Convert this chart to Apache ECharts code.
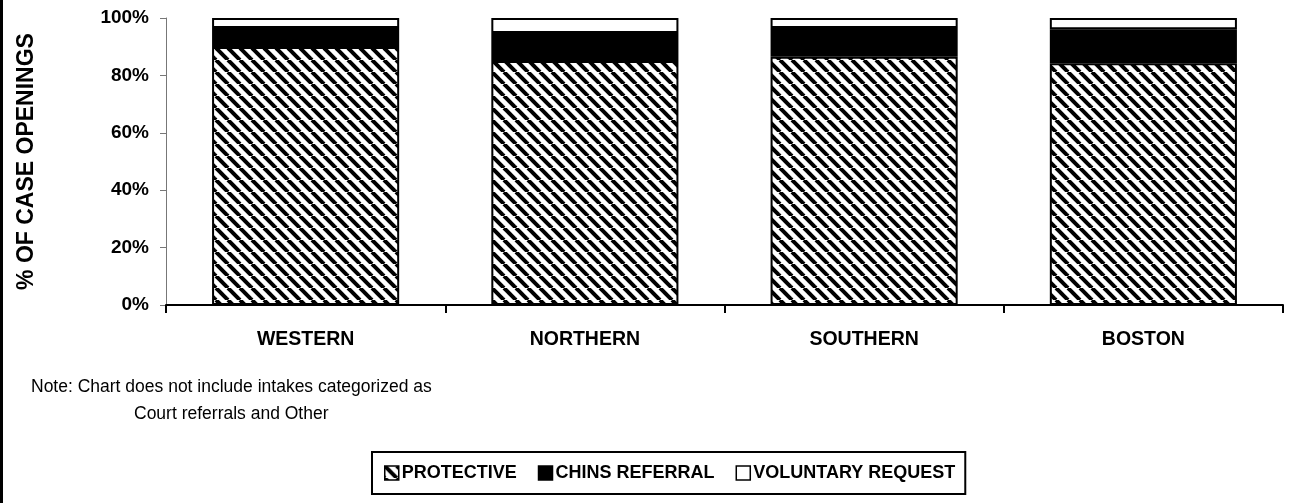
<!DOCTYPE html>
<html>
<head>
<meta charset="utf-8">
<script src="https://cdn.jsdelivr.net/npm/echarts@6/dist/echarts.min.js"></script>
<style>
html,body{margin:0;padding:0;background:#fff;}
#chart{width:1294px;height:503px;}
</style>
</head>
<body>
<div id="chart"></div>
<script>
var regions = ['WESTERN', 'NORTHERN', 'SOUTHERN', 'BOSTON'];
var protective = [89.9, 85.0, 86.5, 84.2];
var chinsReferral = [6.6, 9.8, 10.0, 11.9];
var voluntaryRequest = [3.5, 5.2, 3.5, 3.9];
var yTicks = [0, 20, 40, 60, 80, 100];

// diagonal hatch tile
var tile = document.createElement('canvas');
tile.width = 12;
tile.height = 12;
var ctx = tile.getContext('2d');
ctx.fillStyle = '#fff';
ctx.fillRect(0, 0, 12, 12);
ctx.strokeStyle = '#000';
ctx.lineWidth = 4;
[-12, 0, 12].forEach(function (o) {
    ctx.beginPath();
    ctx.moveTo(o, 0);
    ctx.lineTo(o + 12, 12);
    ctx.stroke();
});
var hatch = { image: tile, repeat: 'repeat' };

var font = 'Liberation Sans, Arial, sans-serif';

var myChart = echarts.init(document.getElementById('chart'));
var option = {
    animation: false,
    textStyle: { fontFamily: font, color: '#000' },
    grid: { left: 166, right: 11, top: 18, bottom: 198 },
    xAxis: {
        type: 'category',
        data: regions,
        axisLine: { lineStyle: { color: '#000', width: 2 } },
        axisTick: { show: true, alignWithLabel: false, length: 8, lineStyle: { color: '#000', width: 2 } },
        axisLabel: { margin: 25, fontSize: 19.5, fontWeight: 'bold', color: '#000', fontFamily: font }
    },
    yAxis: {
        type: 'value',
        min: yTicks[0],
        max: yTicks[yTicks.length - 1],
        interval: 20,
        name: '% OF CASE OPENINGS',
        nameLocation: 'middle',
        nameGap: 128,
        nameTextStyle: { fontSize: 23, fontWeight: 'bold', color: '#000', fontFamily: font },
        splitLine: { show: false },
        axisLine: { show: true, lineStyle: { color: '#777', width: 1 } },
        axisTick: { show: true, length: 6, lineStyle: { color: '#777' } },
        axisLabel: { formatter: '{value}%', margin: 17, fontSize: 19, fontWeight: 'bold', color: '#000', fontFamily: font }
    },
    legend: {
        left: 372,
        top: 452,
        padding: [12, 10, 12, 12],
        borderColor: '#000',
        borderWidth: 2,
        itemWidth: 14,
        itemHeight: 14,
        itemGap: 21,
        selectedMode: false,
        textStyle: { fontSize: 18, fontWeight: 'bold', color: '#000', fontFamily: font, padding: [0, 0, 0, -2] },
        data: [
            { name: 'PROTECTIVE', icon: 'rect', itemStyle: { color: hatch, borderColor: '#000', borderWidth: 1.5 } },
            { name: 'CHINS REFERRAL', icon: 'rect', itemStyle: { color: '#000', borderColor: '#000', borderWidth: 1.5 } },
            { name: 'VOLUNTARY REQUEST', icon: 'rect', itemStyle: { color: '#fff', borderColor: '#000', borderWidth: 1.5 } }
        ]
    },
    graphic: [
        { type: 'rect', left: 0, top: 0, shape: { width: 3, height: 503 }, style: { fill: '#000' } },
        { type: 'text', left: 31, top: 378, style: { text: 'Note: Chart does not include intakes categorized as', font: '17.5px ' + font, fill: '#000' } },
        { type: 'text', left: 134, top: 405, style: { text: 'Court referrals and Other', font: '17.5px ' + font, fill: '#000' } }
    ],
    series: [
        {
            name: 'PROTECTIVE',
            type: 'bar',
            stack: 'total',
            barWidth: '67%',
            data: protective,
            itemStyle: { color: hatch, borderColor: '#000', borderWidth: 2 }
        },
        {
            name: 'CHINS REFERRAL',
            type: 'bar',
            stack: 'total',
            data: chinsReferral,
            itemStyle: { color: '#000', borderColor: '#000', borderWidth: 2 }
        },
        {
            name: 'VOLUNTARY REQUEST',
            type: 'bar',
            stack: 'total',
            data: voluntaryRequest,
            itemStyle: { color: '#fff', borderColor: '#000', borderWidth: 2 }
        }
    ]
};
myChart.setOption(option);
</script>
</body>
</html>
